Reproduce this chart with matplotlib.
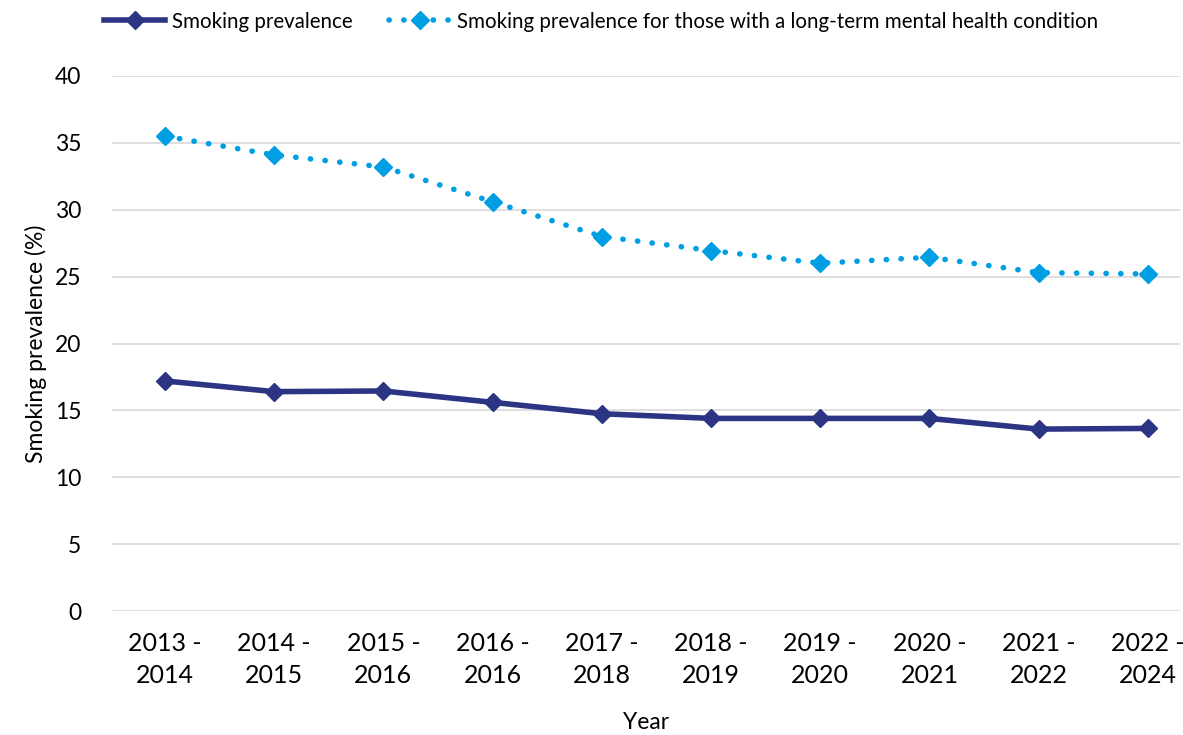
import matplotlib.pyplot as plt

# data
years = ["2013 -\n2014", "2014 -\n2015", "2015 -\n2016", "2016 -\n2016",
         "2017 -\n2018", "2018 -\n2019", "2019 -\n2020", "2020 -\n2021",
         "2021 -\n2022", "2022 -\n2024"]
smoking = [17.2, 16.4, 16.45, 15.6, 14.75, 14.4, 14.4, 14.4, 13.6, 13.65]
smoking_mh = [35.5, 34.1, 33.2, 30.6, 28.0, 26.95, 26.0, 26.45, 25.3, 25.2]

dark = "#2B3584"
light = "#009FE3"

plt.rcParams['font.family'] = ['Lato', 'DejaVu Sans']

fig = plt.figure(figsize=(11.83, 7.35), dpi=100)
ax = fig.add_axes([112 / 1183, 1 - 611 / 735, (1180 - 112) / 1183,
                   (611 - 76) / 735])

x = list(range(len(years)))
ax.plot(x, smoking, color=dark, linewidth=4, marker="D", markersize=9,
        label="Smoking prevalence", zorder=3)
ax.plot(x, smoking_mh, color=light, linewidth=4,
        linestyle=(0, (0.05, 2.6)), dash_capstyle="round",
        marker="D", markersize=9,
        label="Smoking prevalence for those with a long-term mental health condition",
        zorder=3)

ax.set_ylim(0, 40)
ax.set_yticks(range(0, 41, 5))
ax.set_xlim(-0.485, 9.295)
ax.set_xticks(x)
ax.set_xticklabels(years, fontsize=18, linespacing=1.5)
ax.tick_params(axis="y", labelsize=16.5, length=0, pad=22)
ax.tick_params(axis="x", length=0, pad=15)
ax.grid(axis="y", color="#D9D9D9", linewidth=1.2)
ax.set_axisbelow(True)
for s in ax.spines.values():
    s.set_visible(False)

ax.set_ylabel("Smoking prevalence (%)", fontsize=16.5, labelpad=6)
ax.set_xlabel("Year", fontsize=16.5, labelpad=18)

ax.legend(loc="upper left", bbox_to_anchor=(-0.025, 1.155), ncol=2,
          frameon=False, fontsize=14.8, handlelength=3.0,
          handletextpad=0.3, columnspacing=1.8)

plt.savefig("out.png", dpi=100)
